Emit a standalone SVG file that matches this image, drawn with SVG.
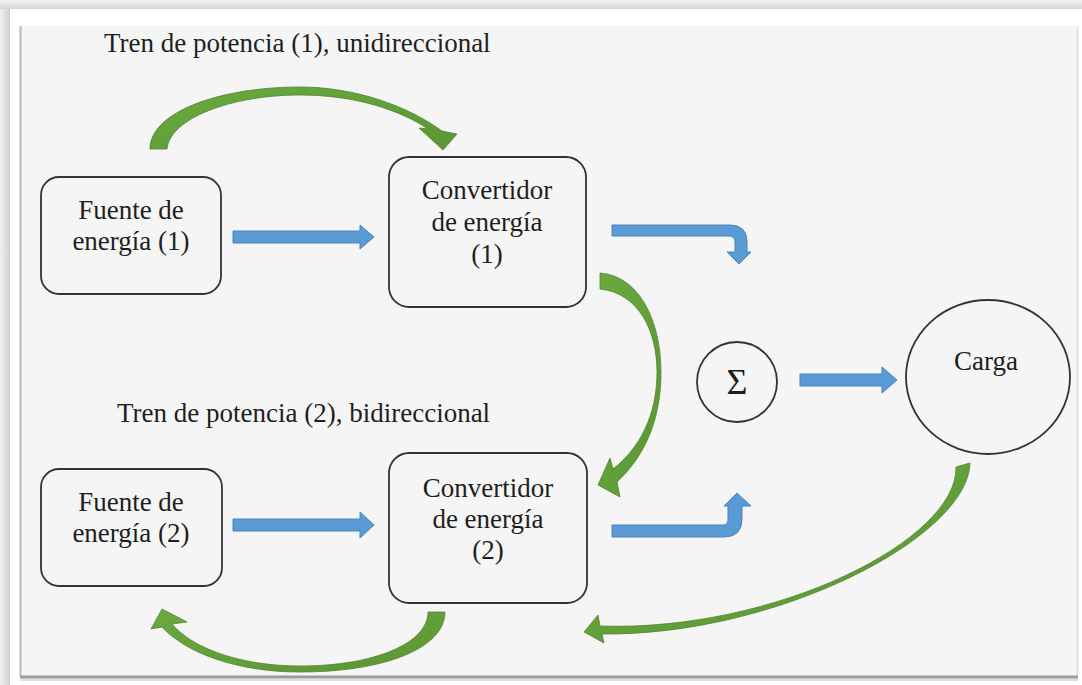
<svg xmlns="http://www.w3.org/2000/svg" width="1082" height="685" viewBox="0 0 1082 685">
<style>
  .box { fill: #f5f5f5; stroke: #333333; stroke-width: 1.8; }
  .blue { fill: #5b9bd5; stroke: #4a84bd; stroke-width: 1; }
  .green { fill: url(#gg); stroke: #548235; stroke-width: 0.8; }
</style>
<defs>
  <linearGradient id="gg" x1="0" y1="0" x2="1" y2="1">
    <stop offset="0" stop-color="#6aaa3f"/>
    <stop offset="1" stop-color="#5a9632"/>
  </linearGradient>
  <linearGradient id="topsh" x1="0" y1="0" x2="0" y2="1">
    <stop offset="0" stop-color="#f4f4f4"/>
    <stop offset="1" stop-color="#d6d6d6"/>
  </linearGradient>
  <linearGradient id="leftsh" x1="0" y1="0" x2="1" y2="0">
    <stop offset="0" stop-color="#f0f0f0"/>
    <stop offset="1" stop-color="#d0d0d0"/>
  </linearGradient>
</defs>

<g id="frame">
  <rect x="0" y="0" width="1082" height="685" fill="#ffffff"/>
  <rect x="0" y="0" width="1082" height="9" fill="url(#topsh)"/>
  <rect x="0" y="9" width="10" height="676" fill="url(#leftsh)"/>
  <rect x="10" y="10" width="1072" height="668" fill="#ffffff"/>
  <rect x="21" y="26" width="1056" height="650" fill="#f5f5f5"/>
  <line x1="20.5" y1="26" x2="20.5" y2="676" stroke="#c4c4c4" stroke-width="2.5"/>
  <line x1="1077.5" y1="26" x2="1077.5" y2="676" stroke="#dcdcdc" stroke-width="1.5"/>
  <line x1="20" y1="677" x2="1078" y2="677" stroke="#9a9a9a" stroke-width="3"/>
  <line x1="20" y1="680" x2="1078" y2="680" stroke="#dcdcdc" stroke-width="2"/>
</g>

<g font-family="'Liberation Serif', 'Times New Roman', serif" font-size="27" fill="#1e1e1e">
<g id="titles">
  <text x="104" y="52">Tren de potencia (1), unidireccional</text>
  <text x="117" y="422">Tren de potencia (2), bidireccional</text>
</g>

<g id="fuente1" text-anchor="middle">
  <rect class="box" x="41" y="177" width="180" height="117" rx="18"/>
  <text x="131" y="219">Fuente de</text>
  <text x="131" y="250">energía (1)</text>
</g>

<g id="convertidor1" text-anchor="middle">
  <rect class="box" x="389" y="157" width="197" height="150" rx="20"/>
  <text x="487" y="199">Convertidor</text>
  <text x="487" y="231">de energía</text>
  <text x="487" y="263">(1)</text>
</g>

<g id="fuente2" text-anchor="middle">
  <rect class="box" x="41" y="469" width="181" height="117" rx="18"/>
  <text x="131" y="511">Fuente de</text>
  <text x="131" y="542">energía (2)</text>
</g>

<g id="convertidor2" text-anchor="middle">
  <rect class="box" x="389" y="453" width="198" height="150" rx="20"/>
  <text x="488" y="497">Convertidor</text>
  <text x="488" y="528">de energía</text>
  <text x="488" y="559">(2)</text>
</g>

<g id="suma" text-anchor="middle">
  <circle class="box" cx="737" cy="382" r="40"/>
  <text x="737" y="394" font-size="36">Σ</text>
</g>

<g id="carga" text-anchor="middle">
  <ellipse class="box" cx="988" cy="377" rx="82" ry="77"/>
  <text x="986" y="370">Carga</text>
</g>
</g>

<g id="connectors">
  <path class="blue" d="M233,231 H360 V225 L374,237 L360,249 V243 H233 Z"/>
  <path class="blue" d="M233,519 H360 V512 L374,525 L360,538 V531 H233 Z"/>
  <path class="blue" d="M800,374 H882 V367 L897,380 L882,393 V386 H800 Z"/>
  <path class="blue" d="M612,225 H730 Q747,225 747,242 V252 H751 L739,264 L727,252 H735 V242 Q735,236 729,236 H612 Z"/>
  <path class="blue" d="M612,525 H723 Q728,525 728,519 V506 H724 L737,493 L751,506 H742 V519 Q742,537 724,537 H612 Z"/>
  <path class="green" d="M150,149 C150,112 220,87 300,87 C355,87 408,106 442,131 L457,134 L443,150 L419,128 L428,129 C400,110 355,95 300,95 C232,95 170,118 167,149 Z"/>
  <path class="green" d="M600,273 C640,276 661,322 661,372 C661,418 646,455 617,482 L620,497 L598,485 L610,458 L613,469 C640,448 657,415 657,372 C657,330 638,293 600,289 Z"/>
  <path class="green" d="M445,612 C445,648 385,672 300,672 C235,672 185,652 162,627 L151,629 L162,609 L187,622 L172,624 C192,648 240,666 300,666 C375,666 428,643 428,612 Z"/>
  <path class="green" d="M970,463 C968,538 775,636 602,634 L604,643 L584,632 L598,615 L600,626 C775,632 958,540 956,467 Z"/>
</g>
</svg>
